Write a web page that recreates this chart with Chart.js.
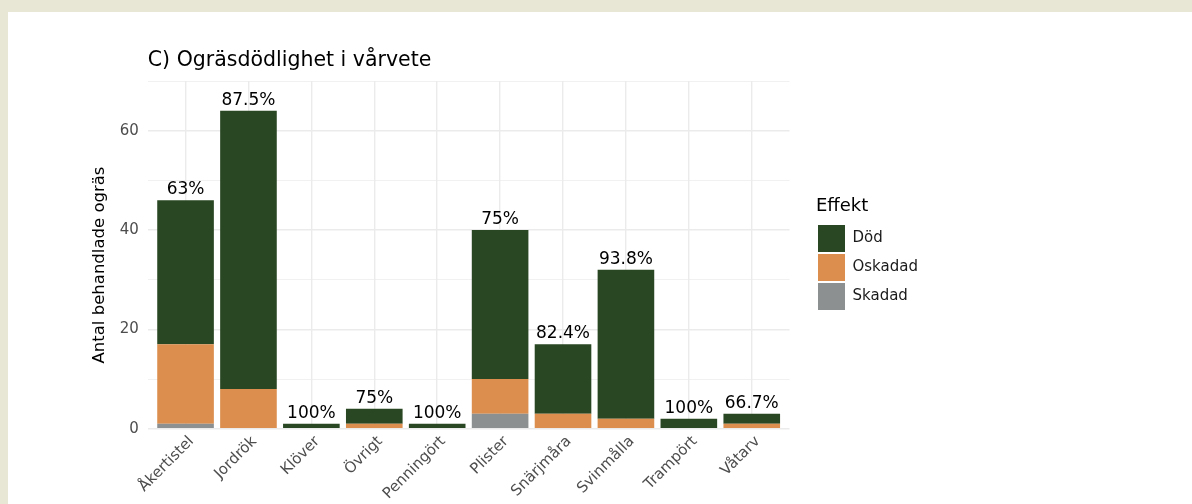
<!DOCTYPE html>
<html lang="sv">
<head>
  <meta charset="UTF-8" />
  <title>Ogräsdödlighet i vårvete</title>
  <script src="https://cdn.jsdelivr.net/npm/chart.js"></script>
  <style>
    html, body {
      margin: 0;
      padding: 0;
    }
    body {
      background: #e8e6d5;
      width: 1192px;
      height: 504px;
      overflow: hidden;
      font-family: "DejaVu Sans", sans-serif;
    }
    .panel {
      position: absolute;
      left: 8px;
      top: 12px;
      width: 1184px;
      height: 492px;
      background: #ffffff;
    }
    canvas {
      display: block;
    }
  </style>
</head>
<body>

  <div class="panel">
    <canvas id="chart" width="1184" height="492"></canvas>
  </div>

  <script>
    // ------------------ Data ------------------
    const categories = ['Åkertistel', 'Jordrök', 'Klöver', 'Övrigt', 'Penningört', 'Plister', 'Snärjmåra', 'Svinmålla', 'Trampört', 'Våtarv'];
    const dod     = [29, 56, 1, 3, 1, 30, 14, 30, 2, 2];
    const oskadad = [16, 8, 0, 1, 0, 7, 3, 2, 0, 1];
    const skadad  = [1, 0, 0, 0, 0, 3, 0, 0, 0, 0];
    const pctLabels = ['63%', '87.5%', '100%', '75%', '100%', '75%', '82.4%', '93.8%', '100%', '66.7%'];
    const yTickLabels = [0, 20, 40, 60];

    const chartTitle = 'C) Ogräsdödlighet i vårvete';
    const yTitle = 'Antal behandlade ogräs';
    const FONT = '"DejaVu Sans", sans-serif';

    const toPoints = arr => arr.map((v, i) => ({ x: i, y: v }));

    // spacer between plot area and legend
    const legendGap = {
      position: 'right',
      weight: 500,
      fullSize: false,
      options: {},
      width: 0,
      height: 0,
      isHorizontal() { return false; },
      update(maxWidth, maxHeight) {
        this.width = 26.5;
        this.height = maxHeight;
      },
      draw() {}
    };

    const extras = {
      id: 'extras',
      beforeInit(chart) {
        Chart.layouts.addBox(chart, legendGap);
        // fixed legend width so the plot area lands where the reference has it
        const lg = chart.legend;
        if (lg) {
          const fit = lg.fit.bind(lg);
          lg.fit = function () { fit(); this.width = 130; };
        }
      },
      afterDatasetsDraw(chart) {
        const { ctx, scales: { x, y } } = chart;
        ctx.save();
        ctx.font = '17px ' + FONT;
        ctx.fillStyle = '#000000';
        ctx.textAlign = 'center';
        ctx.textBaseline = 'alphabetic';
        categories.forEach((c, i) => {
          const total = dod[i] + oskadad[i] + skadad[i];
          ctx.fillText(pctLabels[i], x.getPixelForValue(i), y.getPixelForValue(total) - 6);
        });
        ctx.restore();
      },
      afterDraw(chart) {
        const { ctx, chartArea } = chart;
        ctx.save();
        ctx.fillStyle = '#000000';
        // title
        ctx.font = '20.5px ' + FONT;
        ctx.textAlign = 'left';
        ctx.textBaseline = 'alphabetic';
        ctx.fillText(chartTitle, chartArea.left, 54);
        // y axis title
        ctx.font = '16.5px ' + FONT;
        ctx.translate(92, 253);
        ctx.rotate(-Math.PI / 2);
        ctx.textAlign = 'center';
        ctx.textBaseline = 'middle';
        ctx.fillText(yTitle, 0, 0);
        ctx.restore();
      }
    };

    const chart = new Chart(document.getElementById('chart'), {
      type: 'bar',
      data: {
        datasets: [
          { label: 'Skadad', data: toPoints(skadad), backgroundColor: '#8d9090' },
          { label: 'Oskadad', data: toPoints(oskadad), backgroundColor: '#db8e4d' },
          { label: 'Död', data: toPoints(dod), backgroundColor: '#2a4723' }
        ]
      },
      options: {
        responsive: false,
        animation: false,
        devicePixelRatio: 1,
        layout: { padding: { top: 69, left: 0, right: 246, bottom: 0 } },
        datasets: {
          bar: { barPercentage: 0.9, categoryPercentage: 1, borderWidth: 0 }
        },
        plugins: {
          tooltip: { enabled: false },
          legend: {
            position: 'right',
            align: 'start',
            reverse: true,
            title: {
              display: true,
              text: 'Effekt',
              position: 'start',
              color: '#000000',
              font: { family: FONT, size: 18 },
              padding: { top: 116, bottom: 4.4 }
            },
            labels: {
              boxWidth: 27,
              boxHeight: 27,
              padding: 2,
              color: '#1a1a1a',
              font: { family: FONT, size: 15 }
            }
          }
        },
        scales: {
          x: {
            type: 'linear',
            stacked: true,
            min: -0.6,
            max: 9.6,
            offset: false,
            afterBuildTicks: s => { s.ticks = categories.map((c, i) => ({ value: i })); },
            afterFit: s => { s.height = 75.3; },
            grid: { color: '#ebebeb', lineWidth: 1.4, drawTicks: false, offset: false },
            border: { display: false },
            ticks: {
              autoSkip: false,
              minRotation: 45,
              maxRotation: 45,
              padding: 4,
              labelOffset: 6,
              color: '#4d4d4d',
              font: { family: FONT, size: 15 },
              callback: v => categories[v] ?? ''
            }
          },
          y: {
            stacked: true,
            min: 0,
            max: 70,
            afterFit: s => { s.width = 139.8; },
            grid: {
              color: '#ebebeb',
              lineWidth: c => (c.tick && c.tick.value % 20 === 0) ? 1.4 : 0.7,
              drawTicks: false
            },
            border: { display: false },
            ticks: {
              stepSize: 10,
              padding: 9,
              color: '#4d4d4d',
              font: { family: FONT, size: 15 },
              callback: v => yTickLabels.includes(v) ? v : ''
            }
          }
        }
      },
      plugins: [extras]
    });
  </script>

</body>
</html>
